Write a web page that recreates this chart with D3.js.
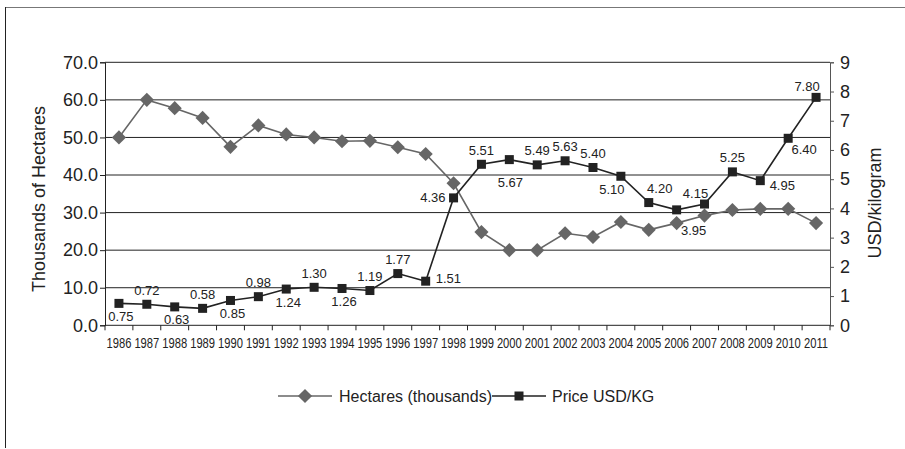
<!DOCTYPE html>
<html>
<head>
<meta charset="utf-8">
<script src="https://cdn.jsdelivr.net/npm/d3@7"></script>
<style>
  html, body { margin: 0; padding: 0; background: #fff; }
  svg { display: block; }
  text { font-family: "Liberation Sans", Arial, sans-serif; fill: #222; }
</style>
</head>
<body>
<svg id="chart" width="905" height="449"></svg>
<script>
// ---- data ----
const years = [1986,1987,1988,1989,1990,1991,1992,1993,1994,1995,1996,1997,1998,1999,2000,2001,2002,2003,2004,2005,2006,2007,2008,2009,2010,2011];
const hectares = [50.0,60.0,57.8,55.2,47.5,53.2,50.8,50.0,49.0,49.1,47.4,45.6,37.8,24.8,20.0,20.0,24.5,23.5,27.5,25.4,27.2,29.2,30.7,31.0,31.0,27.2];
const price = [0.75,0.72,0.63,0.58,0.85,0.98,1.24,1.30,1.26,1.19,1.77,1.51,4.36,5.51,5.67,5.49,5.63,5.40,5.10,4.20,3.95,4.15,5.25,4.95,6.40,7.80];
const priceLabelPlacement = ["b","t","b","t","b","t","b","t","b","t","t","r","l","t","bb","t","t","t","bl","tr","bbr","tl","t","rb","br","tl"];
const leftTicks = [0,10,20,30,40,50,60,70];
const rightTicks = [0,1,2,3,4,5,6,7,8,9];
const seriesNames = ["Hectares (thousands)", "Price USD/KG"];
const leftTitle = "Thousands of Hectares";
const rightTitle = "USD/kilogram";

// ---- layout ----
const svg = d3.select("#chart");
const L = 105, R = 830, T = 62.3, B = 325.3;
const x = d3.scaleBand().domain(years).range([L, R]);
const yL = d3.scaleLinear().domain([0, 70]).range([B, T]);
const yR = d3.scaleLinear().domain([0, 9]).range([B, T]);
const cx = d => x(d) + x.bandwidth() / 2;

// frame
svg.append("line").attr("x1", 5).attr("x2", 905).attr("y1", 7.5).attr("y2", 7.5).attr("stroke", "#777").attr("stroke-width", 1);
svg.append("line").attr("x1", 5.5).attr("x2", 5.5).attr("y1", 7).attr("y2", 448).attr("stroke", "#222").attr("stroke-width", 1);

// gridlines
svg.append("g").selectAll("line").data(leftTicks.filter(d => d > 0)).join("line")
  .attr("x1", L).attr("x2", R).attr("y1", d => yL(d)).attr("y2", d => yL(d))
  .attr("stroke", "#222").attr("stroke-width", 1);

// left axis
const gL = svg.append("g").attr("transform", `translate(${L},0)`)
  .call(d3.axisLeft(yL).tickValues(leftTicks).tickFormat(d3.format(".1f")).tickSize(5).tickPadding(2));
gL.select(".domain").attr("stroke", "#222");
gL.selectAll(".tick line").attr("stroke", "#222");
gL.selectAll("text").style("font-size", "18px").style("font-family", "Liberation Sans, Arial, sans-serif").attr("fill", "#222");

// right axis
const gR = svg.append("g").attr("transform", `translate(${R},0)`)
  .call(d3.axisRight(yR).tickValues(rightTicks).tickFormat(d3.format("d")).tickSize(4).tickPadding(6));
gR.select(".domain").attr("stroke", "#555");
gR.selectAll(".tick line").attr("stroke", "#555");
gR.selectAll("text").style("font-size", "18px").style("font-family", "Liberation Sans, Arial, sans-serif").attr("fill", "#222");

// bottom axis
svg.append("line").attr("x1", L).attr("x2", R).attr("y1", B).attr("y2", B).attr("stroke", "#222");
svg.append("g").selectAll("line").data(years.concat(["end"])).join("line")
  .attr("x1", (d, i) => i < years.length ? x(d) : R)
  .attr("x2", (d, i) => i < years.length ? x(d) : R)
  .attr("y1", B).attr("y2", B + 5).attr("stroke", "#222");
svg.append("g").selectAll("text").data(years).join("text")
  .attr("transform", d => `translate(${cx(d)},348) scale(0.8,1)`)
  .attr("text-anchor", "middle").style("font-size", "14px").attr("fill", "#333")
  .text(d => d);

// axis titles
svg.append("text").attr("transform", `translate(45,199) rotate(-90)`)
  .attr("text-anchor", "middle").style("font-size", "18px").text(leftTitle);
svg.append("text").attr("transform", `translate(881,203) rotate(-90)`)
  .attr("text-anchor", "middle").style("font-size", "18px").text(rightTitle);

// hectares series
const hecColor = "#666";
svg.append("path").datum(years)
  .attr("d", d3.line().x(d => cx(d)).y((d, i) => yL(hectares[i])))
  .attr("fill", "none").attr("stroke", hecColor).attr("stroke-width", 1.6);
const diamond = d3.symbol().type(d3.symbolSquare).size(100);
svg.append("g").selectAll("path").data(years).join("path")
  .attr("d", diamond)
  .attr("transform", (d, i) => `translate(${cx(d)},${yL(hectares[i])}) rotate(45)`)
  .attr("fill", hecColor);

// price series
const priceColor = "#222";
svg.append("path").datum(years)
  .attr("d", d3.line().x(d => cx(d)).y((d, i) => yR(price[i])))
  .attr("fill", "none").attr("stroke", priceColor).attr("stroke-width", 1.6);
svg.append("g").selectAll("rect").data(years).join("rect")
  .attr("x", d => cx(d) - 4.5).attr("y", (d, i) => yR(price[i]) - 4.5)
  .attr("width", 9).attr("height", 9).attr("fill", priceColor);

// price labels
const place = {
  t:   { dx: 0,   dy: -14, a: "middle" },
  b:   { dx: 2,   dy: 13,  a: "middle" },
  bb:  { dx: 1,   dy: 23,  a: "middle" },
  r:   { dx: 10,  dy: -3,  a: "start" },
  l:   { dx: -8,  dy: 0,   a: "end" },
  bl:  { dx: -9,  dy: 13,  a: "middle" },
  tr:  { dx: 11,  dy: -14, a: "middle" },
  br:  { dx: 16,  dy: 11,  a: "middle" },
  bbr: { dx: 17,  dy: 21,  a: "middle" },
  tl:  { dx: -9,  dy: -11, a: "middle" },
  rb:  { dx: 22,  dy: 5,   a: "middle" }
};
svg.append("g").selectAll("text").data(years).join("text")
  .attr("x", (d, i) => cx(d) + place[priceLabelPlacement[i]].dx)
  .attr("y", (d, i) => yR(price[i]) + place[priceLabelPlacement[i]].dy)
  .attr("dy", "0.35em")
  .attr("text-anchor", (d, i) => place[priceLabelPlacement[i]].a)
  .style("font-size", "13px").attr("fill", "#333")
  .text((d, i) => d3.format(".2f")(price[i]));

// legend
const ly = 396;
const lg = svg.append("g");
lg.append("line").attr("x1", 278).attr("x2", 332).attr("y1", ly).attr("y2", ly).attr("stroke", hecColor).attr("stroke-width", 1.6);
lg.append("path").attr("d", diamond).attr("transform", `translate(305,${ly}) rotate(45)`).attr("fill", hecColor);
lg.append("text").attr("x", 339).attr("y", ly).attr("dy", "0.35em").style("font-size", "16px").attr("fill", "#333").text(seriesNames[0]);
lg.append("line").attr("x1", 492).attr("x2", 546).attr("y1", ly).attr("y2", ly).attr("stroke", priceColor).attr("stroke-width", 1.6);
lg.append("rect").attr("x", 519 - 4.5).attr("y", ly - 4.5).attr("width", 9).attr("height", 9).attr("fill", priceColor);
lg.append("text").attr("x", 552).attr("y", ly).attr("dy", "0.35em").style("font-size", "16px").attr("fill", "#333").text(seriesNames[1]);
</script>
</body>
</html>
